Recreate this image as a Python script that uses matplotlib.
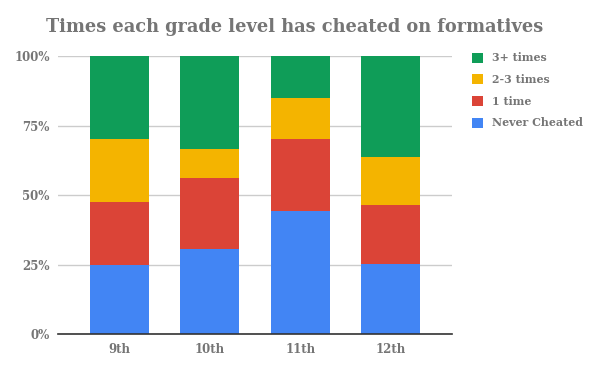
import matplotlib

matplotlib.use("Agg")

import matplotlib.pyplot as plt
import numpy as np

grades = ["9th", "10th", "11th", "12th"]
series_names = ["Never Cheated", "1 time", "2-3 times", "3+ times"]
never_cheated = [25.0, 30.7, 44.4, 25.3]
one_time = [22.6, 25.4, 25.9, 21.3]
two_three_times = [22.7, 10.4, 14.8, 17.2]
three_plus_times = [29.7, 33.5, 14.9, 36.2]
colors = ["#4285F4", "#DB4437", "#F4B400", "#0F9D58"]

GREY = "#757575"
FONT = "DejaVu Serif"


def main():
    fig = plt.figure(figsize=(6, 3.71), dpi=100)
    ax = fig.add_axes([58 / 600, 1 - 334.3 / 371, 394 / 600, 278 / 371])

    x = np.arange(len(grades))
    bottom = np.zeros(len(grades))
    handles = []
    for name, vals, c in zip(series_names,
                             [never_cheated, one_time, two_three_times, three_plus_times],
                             colors):
        vals = np.array(vals)
        h = ax.bar(x, vals, 0.65, bottom=bottom, color=c, label=name, zorder=2)
        handles.append(h)
        bottom += vals

    ax.set_xlim(-0.68, 3.68)
    ax.set_ylim(0, 100)
    ax.set_yticks([0, 25, 50, 75, 100])
    ax.set_yticklabels(["0%", "25%", "50%", "75%", "100%"])
    ax.set_xticks(x)
    ax.set_xticklabels(grades)
    ax.grid(axis="y", color="#cccccc", linewidth=1, zorder=0)
    for side in ["top", "right", "left"]:
        ax.spines[side].set_visible(False)
    ax.spines["bottom"].set_color("#333333")
    ax.spines["bottom"].set_linewidth(1.2)
    ax.spines["bottom"].set_zorder(3)
    ax.tick_params(length=0, labelsize=8.5, labelcolor=GREY, pad=6)
    for lab in ax.get_xticklabels() + ax.get_yticklabels():
        lab.set_fontfamily(FONT)
        lab.set_fontweight("bold")

    fig.text(0.491, 1 - 27 / 371, "Times each grade level has cheated on formatives",
             ha="center", va="center", fontsize=12.8, fontweight="bold",
             color=GREY, family=FONT)

    leg = fig.legend(handles[::-1], series_names[::-1], loc="upper left",
                     bbox_to_anchor=(467 / 600, 1 - 47 / 371), frameon=False,
                     prop={"family": FONT, "weight": "bold", "size": 7.9},
                     handlelength=1.0, handleheight=1.0, handletextpad=0.8,
                     labelspacing=0.97, borderpad=0)
    for t in leg.get_texts():
        t.set_color(GREY)

    fig.savefig("out.png", dpi=100)


if __name__ == "__main__":
    main()
